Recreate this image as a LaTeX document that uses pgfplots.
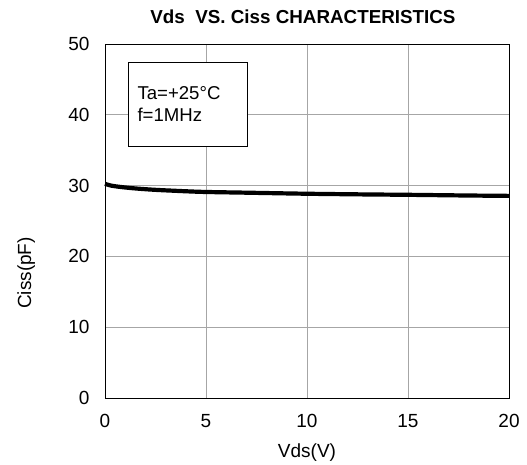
\documentclass[border=0pt]{standalone}
\usepackage{pgfplots}
\pgfplotsset{compat=1.18}
\usepackage{fontspec}
\setmainfont{Liberation Sans}
\begin{document}
\begin{tikzpicture}
\begin{axis}[
  scale only axis,
  width=404pt, height=354pt,
  xmin=0, xmax=20, ymin=0, ymax=50,
  xtick={0,5,10,15,20}, ytick={0,10,20,30,40,50},
  grid=major,
  major grid style={gray!70, line width=0.8pt},
  axis line style={black, line width=0.9pt},
  major tick length=0pt,
  /pgf/number format/assume math mode=true,
  tick label style={font=\fontsize{19}{22}\selectfont},
  xticklabel style={yshift=-13pt},
  yticklabel style={xshift=-12pt},
  xlabel={Vds(V)},
  ylabel={Ciss(pF)},
  label style={font=\fontsize{19}{22}\selectfont},
  xlabel style={at={(axis description cs:0.5,0)}, anchor=north, yshift=-42pt},
  ylabel style={at={(axis description cs:-0.195,0.353)}, anchor=center},
  title={\textbf{Vds\ \ VS. Ciss CHARACTERISTICS}},
  title style={font=\fontsize{18.8}{22}\selectfont, at={(axis description cs:0.49,1)}, anchor=base, yshift=15pt},
  clip=false,
]
\addplot[black, line width=4.2pt, smooth] coordinates {
  (0,30.25) (0.3,30.0) (0.8,29.8) (1.5,29.6) (2.5,29.4) (4,29.2) (5,29.1)
  (7,29.0) (10,28.85) (13,28.75) (15,28.7) (18,28.6) (20,28.55)
};
\draw[black, line width=0.9pt, fill=white] (axis cs:1.14,47.4) rectangle (axis cs:7.03,35.5);
\node[anchor=base west, font=\fontsize{18.6}{22}\selectfont, inner sep=0pt] at (axis cs:1.6,42.2) {Ta=+25\textdegree C};
\node[anchor=base west, font=\fontsize{18.6}{22}\selectfont, inner sep=0pt] at (axis cs:1.6,39.1) {f=1MHz};
\coordinate (sw) at (rel axis cs:0,0);
\end{axis}
\pgfresetboundingbox
\path ([shift={(-105pt,-66pt)}]sw) rectangle ++(527pt,464pt);
\end{tikzpicture}
\end{document}
